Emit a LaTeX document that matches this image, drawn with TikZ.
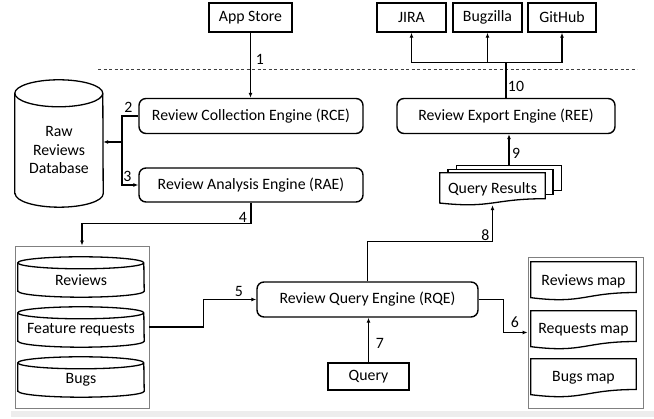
\documentclass[tikz,border=0pt]{standalone}
\usepackage{fontspec}
\setmainfont{Carlito}
\usetikzlibrary{calc,arrows.meta,backgrounds}

\begin{document}
\begin{tikzpicture}
  [x=1pt,y=1pt,font=\fontsize{15.8}{18.5}\selectfont,
   >={Latex[length=5pt,width=4pt]},
   srcbox/.style={draw,line width=1.5pt,minimum height=29pt,inner sep=0pt},
   engine/.style={draw,line width=1.4pt,rounded corners=7pt,minimum height=35pt,inner sep=0pt},
   group/.style={draw=gray,line width=0.8pt,inner sep=0pt},
   hold/.style={inner sep=0pt,align=center},
   shapeline/.style={draw,line width=1.3pt,fill=white},
   num/.style={inner sep=0pt},
   link/.style={->,line width=1.1pt}]
  \useasboundingbox (0,0) rectangle (654,419);

  % outside sources and targets
  \node[srcbox,minimum width=83pt] (app) at (250.5,401.5) {App Store};
  \node[srcbox,minimum width=69pt] (jira) at (411.5,401.5) {JIRA};
  \node[srcbox,minimum width=69pt] (bugzilla) at (487.5,401.5) {Bugzilla};
  \node[srcbox,minimum width=68pt] (github) at (562,401.5) {GitHub};
  \draw[dashed,dash pattern=on 3pt off 2.5pt,line width=0.7pt,black!75] (98,350) -- (637,350);

  % engines
  \node[engine,minimum width=224pt] (rce) at (251,303) {Review Collection Engine (RCE)};
  \node[engine,minimum width=224pt,minimum height=34pt] (rae) at (251,234) {Review Analysis Engine (RAE)};
  \node[engine,minimum width=218pt] (ree) at (506,303) {Review Export Engine (REE)};
  \node[engine,minimum width=221pt] (rqe) at (367.5,119.5) {Review Query Engine (RQE)};
  \node[srcbox,minimum width=81pt,minimum height=27pt] (query) at (368.5,42.5) {Query};

  % stores
  \node[hold,minimum width=88pt,minimum height=113.5pt] (rawdb) at (59,268.75) {Raw\\Reviews\\Database};
  \node[group,minimum width=134pt,minimum height=162pt] (store) at (82,92) {};
  \node[hold,minimum width=126pt,minimum height=34pt] (reviews) at (81,139) {Reviews};
  \node[hold,minimum width=126pt,minimum height=34pt] (feature) at (81,89) {Feature requests};
  \node[hold,minimum width=126pt,minimum height=34pt] (bugs) at (81,39) {Bugs};

  % maps and results
  \node[group,minimum width=115pt,minimum height=151pt] (maps) at (585.5,86.5) {};
  \node[hold,minimum width=105pt,minimum height=38pt] (revmap) at (583.5,138) {Reviews map};
  \node[hold,minimum width=105pt,minimum height=38pt] (reqmap) at (583.5,89) {Requests map};
  \node[hold,minimum width=105pt,minimum height=38pt] (bugmap) at (583.5,41) {Bugs map};
  \node[hold,minimum width=105pt,minimum height=32pt] (results) at (492.5,230) {Query Results};
  \coordinate (bk) at ($(results.north)+(16.5,7)$);

  \begin{scope}[on background layer]
    \fill[white] (0,0) rectangle (654,419);
    \fill[black!7] (11,2) rectangle (654,8);
    \foreach \k in {2,1}
      \draw[shapeline] ($(results.north west)+(8.25*\k,3.5*\k)$) rectangle ++(105,-25);
    \foreach \n in {revmap,reqmap,bugmap,results}
      \draw[shapeline] (\n.north west) -- (\n.north east) -- ($(\n.north east)!0.8!(\n.south east)$)
        .. controls ($(\n.north)!0.8!(\n.south)$) and ($(\n.north)!1.107!(\n.south)$) ..
        ($(\n.north west)!0.934!(\n.south west)$) -- cycle;
    \foreach \n/\rx/\ry in {rawdb/44/13.5,reviews/63/6,feature/63/6,bugs/63/6}{
      \draw[shapeline] ($(\n.south west)+(0,\ry)$) -- (\n.north west)
        arc[start angle=180,end angle=0,x radius=\rx pt,y radius=\ry pt]
        -- ($(\n.south east)+(0,\ry)$)
        arc[start angle=0,end angle=-180,x radius=\rx pt,y radius=\ry pt] -- cycle;
      \draw[line width=1.3pt] (\n.north west) arc[start angle=180,end angle=360,x radius=\rx pt,y radius=\ry pt];
    }
  \end{scope}

  % connectors
  \coordinate (j) at (122,277);
  \draw[link] (app) -- (app |- rce.north);
  \draw[link] (rce.west) -| (j) |- (rae.west);
  \draw[link] (j) -- (j -| rawdb.east);
  \draw[link] (rae.south) -- ++(0,-21) -| (store.north);
  \draw[link] (store.east) -- ++(54,0) |- (rqe.west);
  \draw[link] (rqe.east) -- ++(25,0) |- (maps.west);
  \draw[link] (query.north) -- (query.north |- rqe.south);
  \draw[link] (rqe.north) -- ++(0,40) -| (results.south);
  \draw[link] (bk) -- (bk |- ree.south);
  \draw[line width=1.1pt] (ree.north) -- ++(0,35) coordinate (hub);
  \draw[link] (hub) -| (jira.south);
  \draw[link] (hub) -| (bugzilla.south);
  \draw[link] (hub) -| (github.south);

  % step numbers
  \node[num] (n1) at (260,360) {1};
  \node[num] (n2) at (128.5,312) {2};
  \node[num] (n3) at (127.5,243) {3};
  \node[num] (n4) at (243,202) {4};
  \node[num] (n5) at (239,128) {5};
  \node[num] (n6) at (515,97) {6};
  \node[num] (n7) at (380,76) {7};
  \node[num] (n8) at (485.5,184) {8};
  \node[num] (n9) at (516,266) {9};
  \node[num] (n10) at (516,333) {10};
\end{tikzpicture}
\end{document}
